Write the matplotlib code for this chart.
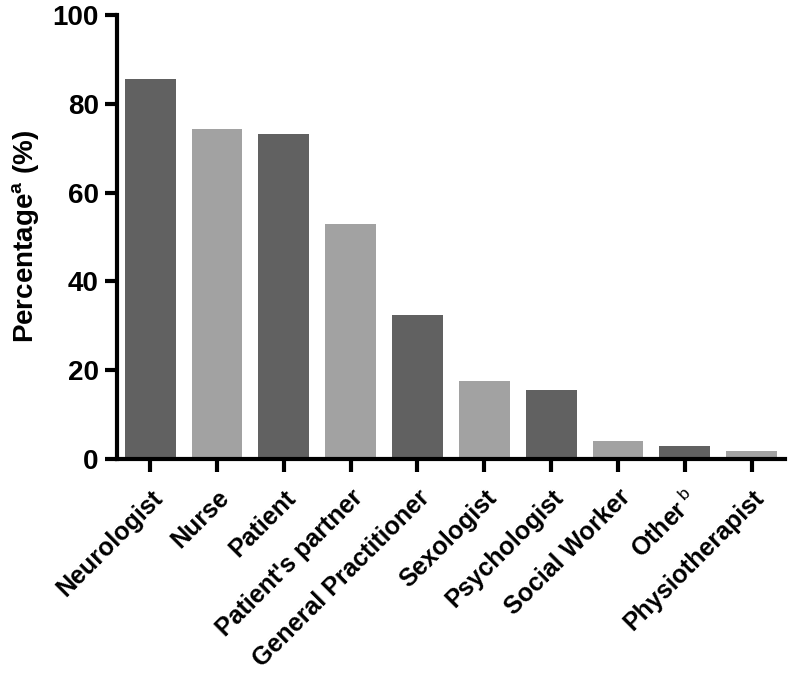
import numpy as np
import matplotlib
matplotlib.use("Agg")
import matplotlib.pyplot as plt

plt.rcParams['font.family'] = ['Liberation Sans', 'DejaVu Sans']
plt.rcParams['mathtext.fontset'] = 'custom'
plt.rcParams['mathtext.rm'] = 'Liberation Sans'
plt.rcParams['mathtext.it'] = 'Liberation Sans:italic'
plt.rcParams['mathtext.bf'] = 'Liberation Sans:bold'

categories = ['Neurologist', 'Nurse', 'Patient', "Patient's partner",
              'General Practitioner', 'Sexologist', 'Psychologist',
              'Social Worker', r'Other$^{\ \mathrm{b}}$', 'Physiotherapist']
values = [85.6, 74.3, 73.1, 52.9, 32.4, 17.6, 15.5, 4.0, 2.9, 1.7]
colors = ['#616161', '#a2a2a2'] * 5

fig = plt.figure(figsize=(7.89, 6.78), dpi=100)
ax = fig.add_axes([0.148, 0.323, 0.847, 0.655])

x = np.arange(len(categories))
ax.bar(x, values, width=0.76, color=colors, edgecolor='none', zorder=2)

ax.set_xlim(-0.5, 9.5)
ax.set_ylim(0, 100)
ax.set_yticks([0, 20, 40, 60, 80, 100])
ax.set_xticks(x)
ax.set_xticklabels(categories, rotation=45, ha='right', rotation_mode='anchor',
                   fontsize=18, fontweight='bold')
for lab in ax.get_yticklabels():
    lab.set_fontsize(20)
    lab.set_fontweight('bold')

for s in ['top', 'right']:
    ax.spines[s].set_visible(False)
for s in ['left', 'bottom']:
    ax.spines[s].set_linewidth(3)
ax.tick_params(axis='both', width=3, length=9, direction='out')
ax.tick_params(axis='y', pad=4)
ax.tick_params(axis='x', pad=10)

ax.set_ylabel(r'Percentage$^{\mathregular{a}}$ (%)', fontsize=20, fontweight='bold', labelpad=8)

plt.savefig('out.png', dpi=100)
